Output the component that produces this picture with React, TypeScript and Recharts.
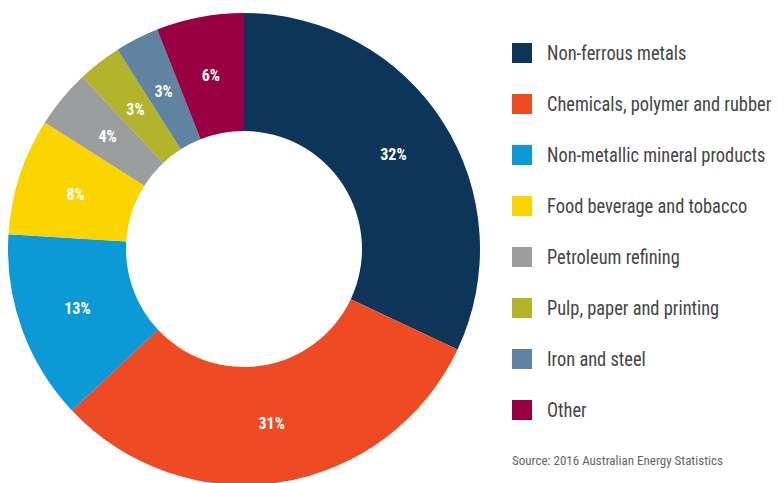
import React from "react";
import { Cell, Legend, Pie, PieChart } from "recharts";

const sectors = [
  "Non-ferrous metals",
  "Chemicals, polymer and rubber",
  "Non-metallic mineral products",
  "Food beverage and tobacco",
  "Petroleum refining",
  "Pulp, paper and printing",
  "Iron and steel",
  "Other"
];
const shares = [32, 31, 13, 8, 4, 3, 3, 6];
const colors = ["#0c3559", "#ee4a23", "#0b9ad5", "#fcd500", "#9c9d9f", "#b3b42b", "#5f83a1", "#990042"];

const data = sectors.map((name, i) => ({ name, value: shares[i] }));

const FONT = "'Liberation Sans Narrow', 'Roboto Condensed', 'Roboto', sans-serif";
const RADIAN = Math.PI / 180;

function SliceLabel(props: any) {
  const { cx, cy, midAngle, innerRadius, outerRadius, value } = props;
  const r = (innerRadius + outerRadius) / 2;
  const x = cx + r * Math.cos(-midAngle * RADIAN);
  const y = cy + r * Math.sin(-midAngle * RADIAN);
  return (
    <text
      x={x}
      y={y}
      fill="#ffffff"
      textAnchor="middle"
      dominantBaseline="central"
      fontFamily={FONT}
      fontWeight="bold"
      fontSize={16}
    >
      {value}%
    </text>
  );
}

function LegendList() {
  return (
    <div style={{ fontFamily: FONT, color: "#454545" }}>
      {sectors.map((name, i) => (
        <div key={name} style={{ display: "flex", alignItems: "center", height: 51 }}>
          <span style={{ width: 20, height: 20, background: colors[i], marginRight: 15, flexShrink: 0 }} />
          <span
            style={{
              fontSize: 20,
              whiteSpace: "nowrap",
              display: "inline-block",
              transform: "scaleX(0.92)",
              transformOrigin: "left center"
            }}
          >
            {name}
          </span>
        </div>
      ))}
      <div style={{ fontSize: 13, color: "#666", marginTop: 18 }}>Source: 2016 Australian Energy Statistics</div>
    </div>
  );
}

export default function App() {
  return (
    <div style={{ position: "absolute", left: 0, top: 0, width: 784, height: 483, background: "#fff", overflow: "hidden" }}>
      <PieChart width={784} height={483} margin={{ top: 0, right: 0, bottom: 0, left: 0 }}>
        <Pie
          data={data}
          dataKey="value"
          nameKey="name"
          cx={244}
          cy={249}
          innerRadius={118}
          outerRadius={236}
          startAngle={90}
          endAngle={-270}
          stroke="none"
          label={SliceLabel}
          labelLine={false}
          isAnimationActive={false}
        >
          {data.map((d, i) => (
            <Cell key={d.name} fill={colors[i]} />
          ))}
        </Pie>
        <Legend
          layout="vertical"
          align="right"
          verticalAlign="top"
          content={() => <LegendList />}
          wrapperStyle={{ left: 512, top: 27, width: 272 }}
        />
      </PieChart>
    </div>
  );
}
